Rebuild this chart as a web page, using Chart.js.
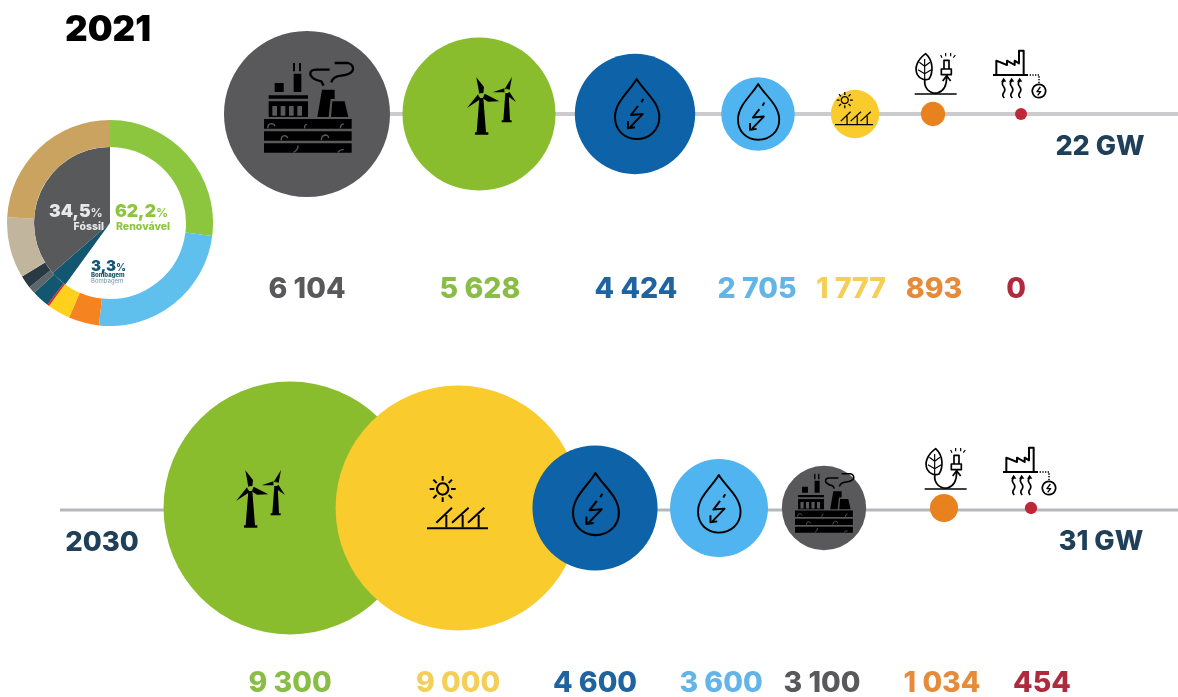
<!DOCTYPE html>
<html lang="pt">
<head>
<meta charset="utf-8">
<title>2021 / 2030</title>
<script src="https://cdn.jsdelivr.net/npm/chart.js@4"></script>
<style>
  html, body { margin: 0; padding: 0; background: #fff; overflow: hidden; }
  #wrap { position: relative; width: 1178px; height: 697px; }
  #donut { position: absolute; left: 7px; top: 120px; }
  #main { position: absolute; left: 0; top: 0; }
</style>
</head>
<body>
<div id="wrap">
  <canvas id="donut" width="206" height="206"></canvas>
  <canvas id="main" width="1178" height="697"></canvas>
</div>
<script>
// ---- data -----------------------------------------------------------
const sources2021 = ["fossil", "wind", "hydro", "pumped", "solar", "biomass", "geothermal"];
const values2021 = [6104, 5628, 4424, 2705, 1777, 893, 0];
const labels2021 = ["6 104", "5 628", "4 424", "2 705", "1 777", "893", "0"];
const bubbleX2021 = [307, 479, 635, 758, 855, 933, 1021];
const labelX2021 = [307, 480, 636, 757, 851, 934, 1016];
const colors2021 = ["#59595b", "#8abd2e", "#0e62a8", "#4fb4ef", "#f9cb2c", "#e8821e", "#c0283a"];
const textColors2021 = ["#59595b", "#8abd45", "#1f639f", "#62b5e6", "#f4cf57", "#e58b3a", "#b02a3e"];

const sources2030 = ["wind", "solar", "hydro", "pumped", "fossil", "biomass", "geothermal"];
const values2030 = [9300, 9000, 4600, 3600, 3100, 1034, 454];
const labels2030 = ["9 300", "9 000", "4 600", "3 600", "3 100", "1 034", "454"];
const bubbleX2030 = [290, 458, 595, 719, 824, 944, 1031];
const labelX2030 = [290, 458, 595, 721, 822, 942, 1042];
const colors2030 = ["#8abd2e", "#f9cb2c", "#0e62a8", "#4fb4ef", "#59595b", "#e8821e", "#c0283a"];
const textColors2030 = ["#8abd45", "#f4cf57", "#1f639f", "#62b5e6", "#59595b", "#e58b3a", "#b02a3e"];

// donut: outer ring by technology, inner pie by group (shares)
const ringShares = [27, 24.7, 4.8, 3.6, 0.3, 2.75, 1.15, 2, 9.6, 24.1];
const ringColors = ["#8cc63f", "#5fc0ee", "#f58420", "#ffd01c", "#e0242c", "#12566f", "#5d666a", "#2a3a45", "#c2b59e", "#c9a35f"];
const pieShares = [60, 3.6, 36.4];
const pieColors = ["#ffffff", "#12566f", "#58595b"];

const RADIUS_PER_MW = 0.0136;
const MIN_RADIUS = 6;
const ROW_2021 = 114;
const ROW_2030 = 508;

// ---- icons (drawn in their own little coordinate box) ----------------
const FG = "#000";
const blade = (d) => ({ d, fill: FG });
const icons = {
  fossil: {
    ox: 133, oy: 97,
    parts: [
      { d: "M133 268H396V297H133Z M133 305H396V333H133Z M133 341H396V369H133Z", fill: FG },
      { d: "M147 197H265V207H147Z M165 160H192V187H165Z M222 132H245V187H222Z M220 100H226V125H220Z M238 100H244V125H238Z", fill: FG },
      { d: "M147 215H265V262H147Z", fill: FG },
      { d: "M158 229H172V258H158Z M183 229H197V258H183Z M208 229H222V258H208Z M233 229H247V258H233Z", fill: "BG" },
      { d: "M307 180H345V208H333L327 262H293Z M338 215H375L386 262H334Z", fill: FG },
      { d: "M330 120H290Q270 120 272 135Q278 150 305 155L312 168 M345 100H385Q402 105 400 120Q395 135 365 138Q340 140 335 158", stroke: FG, lw: 7 },
      { d: "M145 296Q143 283 155 282Q166 283 165 290 M255 296Q253 285 262 284 M362 296Q362 284 372 283 M185 332Q183 319 195 318Q204 320 204 326 M305 332Q305 317 318 316Q328 318 326 325 M222 368Q236 360 235 347 M355 368Q362 358 372 360", stroke: "BG", lw: 4 }
    ]
  },
  wind: {
    ox: 743, oy: 142,
    parts: [
      { d: "M780 205H792L800 308H772Z M767 308H807V315H767Z", fill: FG },
      blade("M780 192L771 143L794 172L792 190Z"),
      blade("M796 192L840 215L806 216L790 206Z"),
      blade("M776 194L743 235L784 208Z"),
      { d: "M858 190H868L872 272H852Z M847 272H877V278H847Z", fill: FG },
      blade("M856 178L878 142L871 180Z"),
      blade("M856 188L820 188L855 176Z"),
      blade("M870 186L890 217L860 196Z"),
      { d: "M785 192A6 6 0 1 1 784.9 192Z M862 178A5 5 0 1 1 861.9 178Z", stroke: "BG", lw: 2 }
    ]
  },
  drop: {
    ox: 1187, oy: 147,
    parts: [
      { d: "M1252 147C1230 185 1187 215 1187 262C1187 300 1215 327 1252 327C1290 327 1320 300 1320 262C1320 215 1275 185 1252 147Z", stroke: FG, lw: 6 },
      { d: "M1272 207L1266 217 M1256 228L1235 255L1270 252L1232 292 M1226 273L1226 295L1247 292", stroke: FG, lw: 6 }
    ]
  },
  solar: {
    ox: 680, oy: 108,
    parts: [
      { d: "M727 130A17 17 0 1 1 726.9 130Z", stroke: FG, lw: 6 },
      { d: "M727 108V122 M727 172V186 M688 147H702 M752 147H766 M699 119L709 129 M745 165L755 175 M755 119L745 129 M709 165L699 175", stroke: FG, lw: 6 },
      { d: "M680 265H863", stroke: FG, lw: 6 },
      { d: "M708 248L755 203 M738 262V225 M755 248L805 203 M787 262V225 M803 248L852 203 M835 262V225", stroke: FG, lw: 6 }
    ]
  },
  biomass: {
    ox: 640, oy: 40,
    parts: [
      { d: "M675 42C650 60 640 85 650 105C658 120 675 122 685 118C697 100 700 65 675 42Z", stroke: FG, lw: 5 },
      { d: "M672 58V135 M672 80L656 68 M672 80L688 68 M672 102L652 90 M672 102L692 90", stroke: FG, lw: 3.5 },
      { d: "M672 120C670 145 685 162 710 160C730 155 738 135 738 112 M726 124L738 108L750 124", stroke: FG, lw: 5 },
      { d: "M722 88H752V105H722Z M730 62H745V88H730Z M738 105V112", stroke: FG, lw: 5 },
      { d: "M720 46L724 54 M735 40V50 M750 40V50 M764 46L758 54", stroke: FG, lw: 3.5 },
      { d: "M642 163H768", stroke: FG, lw: 5 }
    ]
  },
  geothermal: {
    ox: 880, oy: 30,
    parts: [
      { d: "M890 102V62L922 75V62L945 75V62L958 70V32H972V102", stroke: FG, lw: 6 },
      { d: "M880 105H985", stroke: FG, lw: 6 },
      { d: "M990 105H1018V130", stroke: FG, lw: 4.5, dash: [4, 4] },
      { d: "M1018 133A20 20 0 1 1 1017.9 133Z", stroke: FG, lw: 5 },
      { d: "M1022 141L1012 155H1023L1014 166", stroke: FG, lw: 4 },
      { d: "M912 122Q904 131 912 140Q919 149 912 158Q906 166 914 174 M936 122Q928 131 936 140Q943 149 936 158Q930 166 938 174 M960 122Q952 131 960 140Q967 149 960 158Q954 166 962 174", stroke: FG, lw: 5 },
      { d: "M904 125L912 113L920 125Z M928 125L936 113L944 125Z M952 125L960 113L968 125Z", fill: FG }
    ]
  }
};

// name, left, top, scale, colour behind the icon
const iconPlacements = [
  ["fossil", 264, 62, 0.3333, "#59595b"],
  ["wind", 467, 77, 0.3333, "#8abd2e"],
  ["drop", 615, 79, 0.3333, "#0e62a8"],
  ["drop", 738, 84, 0.31, "#4fb4ef"],
  ["solar", 835, 92, 0.208, "#f9cb2c"],
  ["biomass", 914, 53, 0.3333, "#fff"],
  ["geothermal", 993, 50, 0.3333, "#fff"],
  ["wind", 236, 470, 0.3333, "#8abd2e"],
  ["solar", 427, 476, 0.3333, "#f9cb2c"],
  ["drop", 573, 473, 0.345, "#0e62a8"],
  ["drop", 698, 475, 0.32, "#4fb4ef"],
  ["fossil", 795, 473, 0.22, "#59595b"],
  ["biomass", 924, 448, 0.3333, "#fff"],
  ["geothermal", 1003, 447, 0.3333, "#fff"]
];

function drawIcon(ctx, [name, left, top, scale, bg]) {
  const icon = icons[name];
  ctx.save();
  ctx.translate(left, top);
  ctx.scale(scale, scale);
  ctx.translate(-icon.ox, -icon.oy);
  ctx.lineCap = "butt";
  ctx.lineJoin = "round";
  icon.parts.forEach((p) => {
    const path = new Path2D(p.d);
    if (p.fill) {
      ctx.fillStyle = p.fill === "BG" ? bg : p.fill;
      ctx.fill(path);
    } else {
      ctx.strokeStyle = p.stroke === "BG" ? bg : p.stroke;
      ctx.lineWidth = p.lw;
      ctx.setLineDash(p.dash || []);
      ctx.stroke(path);
    }
  });
  ctx.restore();
}

// ---- text -----------------------------------------------------------
const HEAVY = "Inter, Roboto, sans-serif";

function put(ctx, text, x, y, font, color, align = "center", blur = 0.5) {
  ctx.save();
  ctx.font = font;
  ctx.fillStyle = color;
  ctx.textAlign = align;
  ctx.textBaseline = "alphabetic";
  ctx.filter = blur ? `blur(${blur}px)` : "none";
  ctx.fillText(text, x, y);
  ctx.restore();
}

// big number followed by a smaller percent sign
function putPercent(ctx, number, x, y, size, color) {
  ctx.save();
  ctx.font = `900 ${size}px ${HEAVY}`;
  const w = ctx.measureText(number).width;
  ctx.restore();
  put(ctx, number, x, y, `900 ${size}px ${HEAVY}`, color, "left", 0.3);
  put(ctx, "%", x + w, y, `700 ${Math.round(size * 0.68)}px ${HEAVY}`, color, "left", 0.3);
}

const overlay = {
  id: "overlay",
  afterDatasetsDraw(chart) {
    const ctx = chart.ctx;
    iconPlacements.forEach((p) => drawIcon(ctx, p));

    const numberFont = `800 28.5px ${HEAVY}`;
    labels2021.forEach((t, i) => put(ctx, t, labelX2021[i], 298, numberFont, textColors2021[i], "center", 0.6));
    labels2030.forEach((t, i) => put(ctx, t, labelX2030[i], 692, numberFont, textColors2030[i], "center", 0.6));

    put(ctx, "2021", 108, 41, `900 35px ${HEAVY}`, "#000", "center", 0);
    put(ctx, "2030", 102, 551, `800 27.5px ${HEAVY}`, "#1f4058");
    put(ctx, "22 GW", 1100, 155, `800 27px ${HEAVY}`, "#1f4058");
    put(ctx, "31 GW", 1101, 550, `800 27px ${HEAVY}`, "#1f4058");

    putPercent(ctx, "34,5", 49, 217, 17.5, "#e8e8e8");
    put(ctx, "Fóssil", 104, 230, `800 10.5px ${HEAVY}`, "#e8e8e8", "right", 0.2);
    putPercent(ctx, "62,2", 115, 217, 17.5, "#8cc63f");
    put(ctx, "Renovável", 116, 230, `800 10.5px ${HEAVY}`, "#8cc63f", "left", 0.2);
    putPercent(ctx, "3,3", 91, 271, 15, "#12566f");
    put(ctx, "Bombagem", 91, 277, `800 6px ${HEAVY}`, "#12566f", "left", 0);
    put(ctx, "Bombagem", 91, 283, `400 6px ${HEAVY}`, "#6f95a6", "left", 0);
  }
};

// ---- charts ---------------------------------------------------------
const toRadius = (v) => Math.max(v * RADIUS_PER_MW, MIN_RADIUS);
const bubbles = (values, xs, row) => values.map((v, i) => ({ x: xs[i], y: row, r: toRadius(v) }));

new Chart(document.getElementById("main"), {
  type: "bubble",
  data: {
    datasets: [
      {
        label: "2021",
        data: bubbles(values2021, bubbleX2021, ROW_2021),
        backgroundColor: colors2021,
        borderWidth: 0,
        clip: false,
        order: 1
      },
      {
        label: "2030",
        data: bubbles(values2030, bubbleX2030, ROW_2030),
        backgroundColor: colors2030,
        borderWidth: 0,
        clip: false,
        order: 1
      },
      {
        type: "line",
        label: "axis 2021",
        data: [{ x: 225, y: ROW_2021 }, { x: 1178, y: ROW_2021 }],
        borderColor: "#cbcbcd",
        borderWidth: 4,
        pointRadius: 0,
        order: 2
      },
      {
        type: "line",
        label: "axis 2030",
        data: [{ x: 60, y: ROW_2030 + 2 }, { x: 1178, y: ROW_2030 + 2 }],
        borderColor: "#b4b8bc",
        borderWidth: 3,
        pointRadius: 0,
        order: 2
      }
    ]
  },
  options: {
    responsive: false,
    animation: false,
    layout: { padding: 0, autoPadding: false },
    plugins: { legend: { display: false }, tooltip: { enabled: false } },
    scales: {
      x: { type: "linear", min: 0, max: 1178, display: false },
      y: { type: "linear", min: 0, max: 697, reverse: true, display: false }
    }
  },
  plugins: [overlay]
});

new Chart(document.getElementById("donut"), {
  type: "doughnut",
  data: {
    datasets: [
      { data: ringShares, backgroundColor: ringColors, borderWidth: 0, weight: 27 },
      { data: pieShares, backgroundColor: pieColors, borderWidth: 0, weight: 76 }
    ]
  },
  options: {
    responsive: false,
    animation: false,
    cutout: 0,
    layout: { padding: 0 },
    plugins: { legend: { display: false }, tooltip: { enabled: false } }
  }
});
</script>
</body>
</html>
